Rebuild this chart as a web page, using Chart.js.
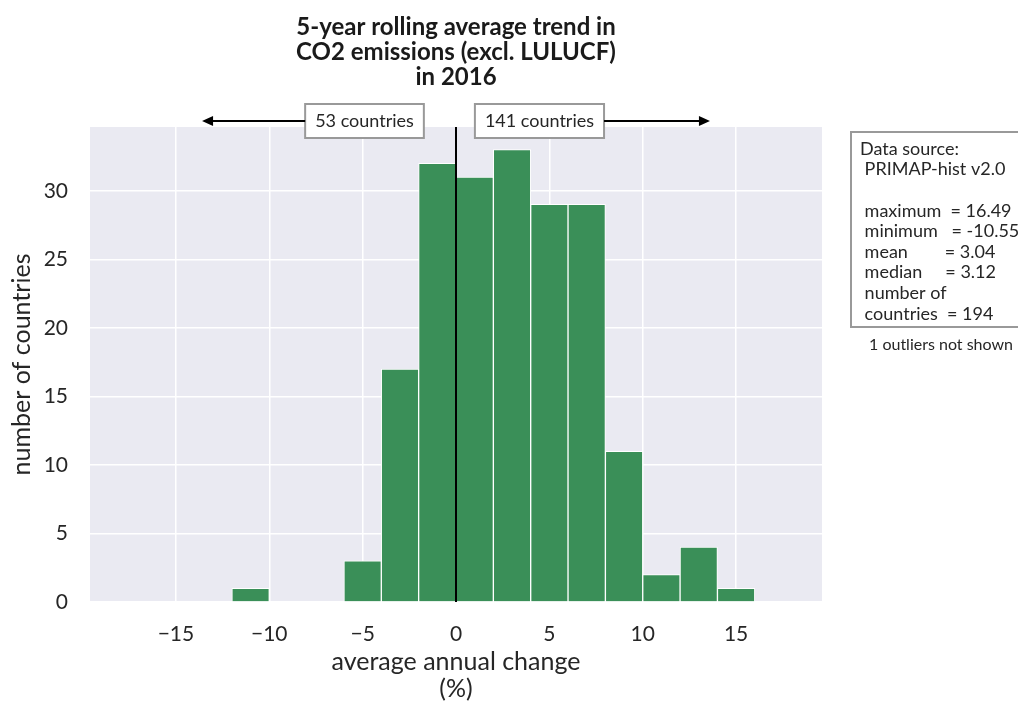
<!DOCTYPE html>
<html>
<head>
<meta charset="utf-8">
<script src="https://cdn.jsdelivr.net/npm/chart.js@4.4.1/dist/chart.umd.min.js"></script>
<style>
  html, body { margin: 0; padding: 0; background: #fff; }
  #wrap { width: 1018px; height: 702px; position: relative; }
</style>
</head>
<body>
<div id="wrap"><canvas id="histChart" width="1018" height="702"></canvas></div>
<script>
/* =====================
   DATA
===================== */
const binCenters = [-11, -9, -7, -5, -3, -1, 1, 3, 5, 7, 9, 11, 13, 15];
const binCounts = [1, 0, 0, 3, 17, 32, 31, 33, 29, 29, 11, 2, 4, 1];

const titleLines = ["5-year rolling average trend in", "CO2 emissions (excl. LULUCF)", "in 2016"];
const xTitleLines = ["average annual change", "(%)"];
const yTitle = "number of countries";

const leftLabel = "53 countries";
const rightLabel = "141 countries";

const statsLines = [
  "Data source:",
  " PRIMAP-hist v2.0",
  "",
  " maximum  = 16.49",
  " minimum   = -10.55",
  " mean        = 3.04",
  " median     = 3.12",
  " number of",
  " countries  = 194"
];
const outlierNote = "1 outliers not shown";

const FONT = "Lato, 'Open Sans', sans-serif";
const TEXT = "#262626";
const BAR = "#3a8f58";

/* =====================
   PLUGIN: background, zero line, annotations
===================== */
const decorations = {
  id: "decorations",
  beforeDraw(chart) {
    const { ctx, chartArea: a } = chart;
    ctx.save();
    ctx.fillStyle = "#eaeaf2";
    ctx.fillRect(a.left, a.top, a.right - a.left, a.bottom - a.top);
    ctx.restore();
  },
  afterDatasetsDraw(chart) {
    const { ctx, chartArea: a, scales } = chart;
    const x0 = scales.x.getPixelForValue(0);
    ctx.save();
    ctx.strokeStyle = "#000";
    ctx.lineWidth = 2;
    ctx.beginPath();
    ctx.moveTo(x0, a.top);
    ctx.lineTo(x0, a.bottom);
    ctx.stroke();
    ctx.restore();
  },
  afterDraw(chart) {
    const { ctx, scales } = chart;
    ctx.save();

    // title
    ctx.fillStyle = "#1a1a1a";
    ctx.font = "bold 24px " + FONT;
    ctx.textAlign = "center";
    ctx.textBaseline = "middle";
    const cx = scales.x.getPixelForValue(0);
    titleLines.forEach((t, i) => ctx.fillText(t, cx, 27 + i * 25));

    // count boxes and arrows
    ctx.font = "18px " + FONT;
    const boxY = 121;
    const drawBox = (text, centerVal) => {
      const c = scales.x.getPixelForValue(centerVal);
      const w = ctx.measureText(text).width + 20;
      ctx.fillStyle = "#fff";
      ctx.fillRect(c - w / 2, boxY - 17, w, 34);
      ctx.strokeStyle = "#999";
      ctx.lineWidth = 2;
      ctx.strokeRect(c - w / 2, boxY - 17, w, 34);
      ctx.fillStyle = TEXT;
      ctx.fillText(text, c, boxY);
      return [c - w / 2, c + w / 2];
    };
    const arrow = (from, to) => {
      const dir = Math.sign(to - from);
      ctx.strokeStyle = "#000";
      ctx.fillStyle = "#000";
      ctx.lineWidth = 2;
      ctx.beginPath();
      ctx.moveTo(from, boxY);
      ctx.lineTo(to - dir * 8, boxY);
      ctx.stroke();
      ctx.beginPath();
      ctx.moveTo(to, boxY);
      ctx.lineTo(to - dir * 11, boxY - 5);
      ctx.lineTo(to - dir * 11, boxY + 5);
      ctx.closePath();
      ctx.fill();
    };
    const lb = drawBox(leftLabel, -4.9);
    const rb = drawBox(rightLabel, 4.47);
    arrow(lb[0], scales.x.getPixelForValue(-13.6));
    arrow(rb[1], scales.x.getPixelForValue(13.6));

    // stats box
    ctx.strokeStyle = "#999";
    ctx.lineWidth = 2;
    ctx.strokeRect(851, 132, 180, 195);
    ctx.fillStyle = TEXT;
    ctx.textAlign = "left";
    ctx.font = "18px " + FONT;
    statsLines.forEach((t, i) => ctx.fillText(t, 860, 149 + i * 20.6));
    ctx.textAlign = "center";
    ctx.font = "16px " + FONT;
    ctx.fillText(outlierNote, 941, 345);

    ctx.restore();
  }
};

/* =====================
   CHART
===================== */
const ctx = document.getElementById("histChart").getContext("2d");

new Chart(ctx, {
  type: "bar",
  data: {
    datasets: [{
      data: binCenters.map((c, i) => ({ x: c, y: binCounts[i] })),
      backgroundColor: BAR,
      borderColor: "#ffffff",
      borderWidth: 1,
      barPercentage: 1,
      categoryPercentage: 1,
      grouped: false
    }]
  },
  options: {
    responsive: false,
    animation: false,
    layout: { padding: { top: 127, right: 196, left: 0, bottom: 0 } },
    plugins: {
      legend: { display: false },
      tooltip: { enabled: false }
    },
    scales: {
      x: {
        type: "linear",
        min: -19.6,
        max: 19.6,
        offset: false,
        afterFit: s => { s.height = 100; },
        grid: { color: "#ffffff", lineWidth: 1.5, drawTicks: false, offset: false },
        border: { display: false },
        ticks: {
          stepSize: 5,
          includeBounds: false,
          padding: 20,
          color: TEXT,
          font: { family: FONT, size: 21 },
          callback: v => (v < 0 ? "\u2212" + Math.abs(v) : String(v))
        },
        title: {
          display: true,
          text: xTitleLines,
          color: TEXT,
          font: { family: FONT, size: 25, lineHeight: 1.08 },
          padding: { top: 0, bottom: 0 }
        }
      },
      y: {
        min: 0,
        max: 34.65,
        afterFit: s => { s.width = 90; },
        grid: { color: "#ffffff", lineWidth: 1.5, drawTicks: false },
        border: { display: false },
        ticks: {
          stepSize: 5,
          includeBounds: false,
          padding: 22,
          color: TEXT,
          font: { family: FONT, size: 21 }
        },
        title: {
          display: true,
          text: yTitle,
          color: TEXT,
          font: { family: FONT, size: 25, lineHeight: 1.2 },
          padding: { top: 7, bottom: 0 }
        }
      }
    }
  },
  plugins: [decorations]
});
</script>
</body>
</html>
